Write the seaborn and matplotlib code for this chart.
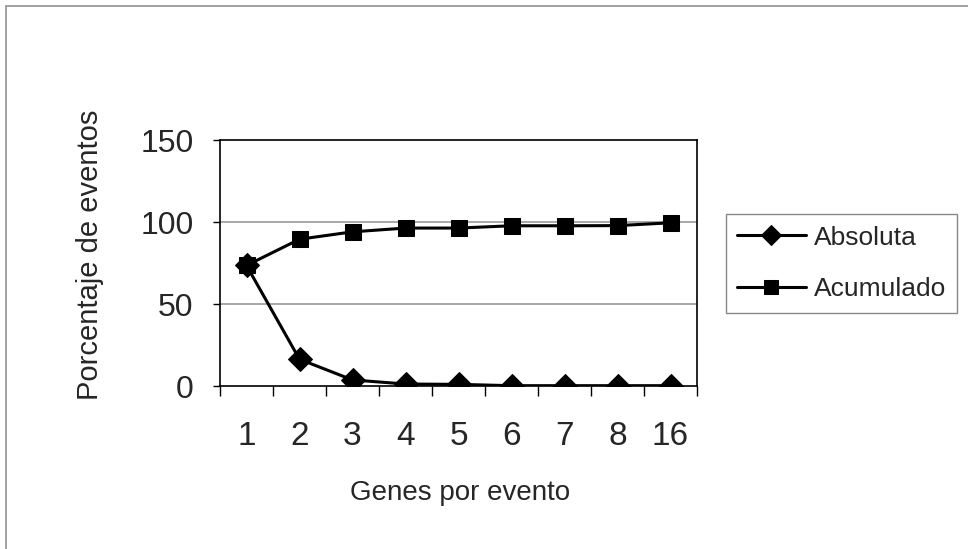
import matplotlib
matplotlib.use("Agg")
import matplotlib.pyplot as plt
from matplotlib.patches import Rectangle
import seaborn as sns

# ---- data ----
genes = ["1", "2", "3", "4", "5", "6", "7", "8", "16"]
absoluta = [73.5, 16.3, 3.7, 1.2, 1.0, 0.2, 0.2, 0.2, 0.2]
acumulado = [73.5, 89.5, 94.0, 96.3, 96.3, 97.7, 97.7, 97.8, 99.5]
y_ticks = [0, 50, 100, 150]

sns.set_style("white")
plt.rcParams["font.family"] = ["Liberation Sans", "DejaVu Sans"]

W, H = 968, 549
fig = plt.figure(figsize=(W / 100, H / 100), dpi=100)

# outer chart frame (only top/left visible in the reference)
fig.patches.append(Rectangle((6 / W, -0.1), 1.2, (H - 6) / H + 0.1,
                             transform=fig.transFigure, fill=False,
                             edgecolor="#9a9a9a", linewidth=1.3))

L, R, T, B = 220, 697, 140, 386
ax = fig.add_axes([L / W, (H - B) / H, (R - L) / W, (B - T) / H])

sns.lineplot(x=genes, y=absoluta, ax=ax, color="black", marker="D",
             markersize=12, linewidth=2.2, label="Absoluta", sort=False,
             markeredgecolor="black")
sns.lineplot(x=genes, y=acumulado, ax=ax, color="black", marker="s",
             markersize=12, linewidth=2.2, label="Acumulado", sort=False,
             markeredgecolor="black")

ax.set_ylim(0, 150)
ax.set_xlim(-0.5, len(genes) - 0.5)
ax.set_yticks(y_ticks)
ax.set_yticklabels([str(v) for v in y_ticks], fontsize=23)
ax.set_xticks(range(len(genes)))
ax.set_xticklabels(genes, fontsize=24)
ax.set_xticks([i - 0.5 for i in range(len(genes) + 1)], minor=True)
ax.tick_params(axis="x", which="major", length=0, pad=25)
ax.tick_params(axis="x", which="minor", length=7, width=1, color="black",
               direction="out", bottom=True)
ax.tick_params(axis="y", which="major", length=5, width=1, color="black",
               direction="out", left=True, pad=14)

for y in [50, 100]:
    ax.axhline(y, color="#a8a8a8", linewidth=1.4, zorder=0)

for s in ax.spines.values():
    s.set_color("black")
    s.set_linewidth(1.2)

ax.set_ylabel("Porcentaje de eventos", fontsize=21, va="center")
ax.yaxis.set_label_coords((90 - L) / (R - L), (B - 255) / (B - T))
ax.set_xlabel("Genes por evento", fontsize=20, va="center")
ax.xaxis.set_label_coords((460 - L) / (R - L), -(493 - B) / (B - T))

leg = ax.legend(loc="center", bbox_to_anchor=(841.5 / W, 1 - 263.5 / H),
                bbox_transform=fig.transFigure, fontsize=19, frameon=True,
                fancybox=False, shadow=False, framealpha=1, edgecolor="#888888",
                handlelength=2.6, handletextpad=0.3, labelspacing=1.05,
                borderpad=0.43, borderaxespad=0, markerscale=0.85)
leg.get_frame().set_linewidth(1.0)

fig.savefig("out.png", dpi=100)
